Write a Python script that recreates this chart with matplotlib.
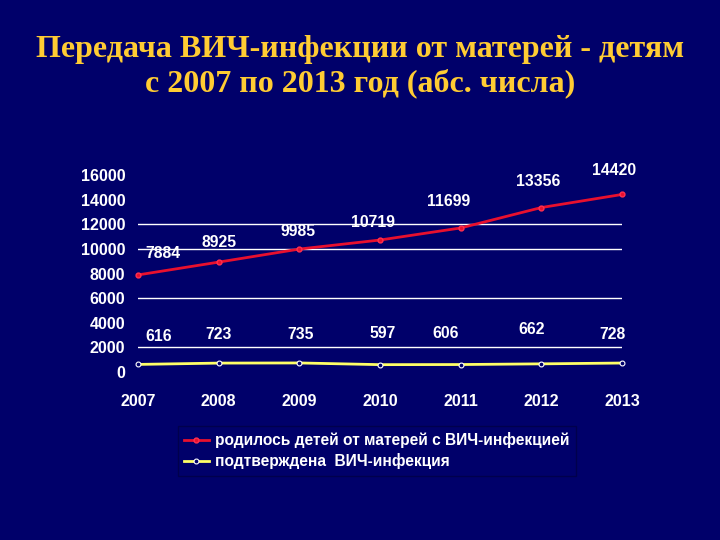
import matplotlib.pyplot as plt

years = [2007, 2008, 2009, 2010, 2011, 2012, 2013]
born = [7884, 8925, 9985, 10719, 11699, 13356, 14420]
confirmed = [616, 723, 735, 597, 606, 662, 728]
yticks = [0, 2000, 4000, 6000, 8000, 10000, 12000, 14000, 16000]
grid_levels = [2000, 6000, 10000, 12000]

title = "Передача ВИЧ-инфекции от матерей - детям\nс 2007 по 2013 год (абс. числа)"
label_born = "родилось детей от матерей с ВИЧ-инфекцией"
label_conf = "подтверждена  ВИЧ-инфекция"

# label offsets in points (hand placed to follow the slide)
born_off = [(18, 10), (0, 9), (-1, 7), (-5, 7), (-9, 14), (-2, 13), (-6, 12)]
conf_off = [(15, 15), (0, 15), (1, 15), (2, 17), (-11, 17), (-7, 19), (-7, 15)]

bg = "#00006a"
plt.rcParams['font.family'] = ['Liberation Sans', 'DejaVu Sans']

fig = plt.figure(figsize=(7.2, 5.4), dpi=100, facecolor=bg)
ax = fig.add_axes([138 / 720, 1 - 372 / 540, 484 / 720, 197 / 540], facecolor=bg)

for lv in grid_levels:
    ax.axhline(lv, color="white", lw=1.0, zorder=1)

ax.plot(years, born, color="#e8102e", lw=2, marker="o", ms=3.5,
        mec="#ff3050", mfc="#e8102e", label=label_born, clip_on=False, zorder=3)
ax.plot(years, confirmed, color="#ffff66", lw=2, marker="o", ms=3.5,
        mec="white", mfc=bg, mew=0.8, label=label_conf, clip_on=False, zorder=3)

for x, y, off in zip(years, born, born_off):
    ax.annotate(str(y), (x, y), xytext=off, textcoords="offset points",
                ha="center", va="bottom", color="white", fontsize=11.3,
                fontweight="bold")
for x, y, off in zip(years, confirmed, conf_off):
    ax.annotate(str(y), (x, y), xytext=off, textcoords="offset points",
                ha="center", va="bottom", color="white", fontsize=11.3,
                fontweight="bold")

ax.set_xlim(2007, 2013)
ax.set_ylim(0, 16000)
ax.set_xticks(years)
ax.set_yticks(yticks)
ax.tick_params(length=0, colors="white", labelsize=11.5)
ax.tick_params(axis="y", pad=9)
ax.tick_params(axis="x", pad=16)
for lab in ax.get_xticklabels() + ax.get_yticklabels():
    lab.set_fontweight("bold")
for s in ax.spines.values():
    s.set_visible(False)

leg = ax.legend(loc="upper left", bbox_to_anchor=(170 / 720, 1 - 418 / 540),
                bbox_transform=fig.transFigure, frameon=True, facecolor=bg,
                edgecolor="#000045", fancybox=False, handlelength=1.6,
                handletextpad=0.4, labelspacing=0.35, borderpad=0.4,
                prop={"weight": "bold", "size": 11.2})
for t in leg.get_texts():
    t.set_color("white")

fig.text(0.5, 1 - 67 / 540, title, ha="center", va="center", color="#ffcc33",
         fontsize=23, fontweight="bold", family=["Liberation Serif", "DejaVu Serif"],
         linespacing=1.2)

fig.savefig("out.png", dpi=100, facecolor=bg)
